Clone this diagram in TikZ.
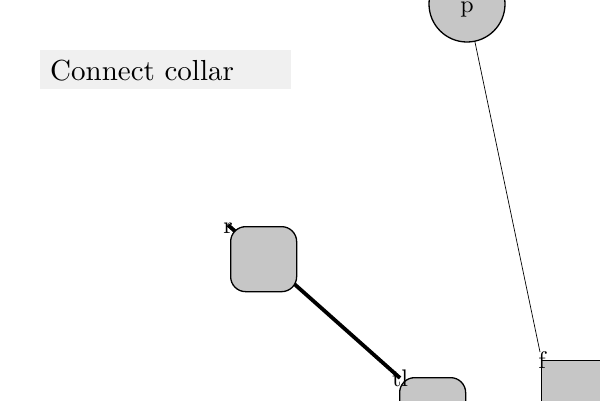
\documentclass[tikz,border=0pt]{standalone}
\usepackage{fontspec}
\setmainfont{lmroman10-regular}[Extension=.otf]
\begin{document}
\begin{tikzpicture}[x=1pt,y=-1pt,
  shapebox/.style={draw=black,line width=1.3pt,fill=gray!45},
  roundbox/.style={shapebox,rounded corners=15pt,minimum width=66pt,minimum height=65pt,inner sep=0pt},
  lbl/.style={font=\fontsize{24}{24}\selectfont,inner sep=0pt}]
\useasboundingbox (0,0) rectangle (600,400);
\coordinate (r) at (228,225);
\coordinate (tl) at (400,378);
\coordinate (f) at (540,352);
\draw[line width=3.8pt] (r) -- (tl);
\node[roundbox,anchor=north west] (a) at (230,226) {};
\node[roundbox,anchor=north west] (b) at (399,377) {};
\node[shapebox,anchor=north west,minimum width=66pt,minimum height=66pt,inner sep=0pt] (fb) at (541,360) {};
\node[shapebox,circle,minimum size=76pt,inner sep=0pt] (p) at (467,4) {};
\node[lbl] at (467,10) {p};
\draw[line width=0.7pt] (p) -- (f);
\node[lbl] at (228,228) {r};
\node[lbl] at (400,378) {tl};
\node[lbl] at (542,360) {f};
\node[fill=black!6,anchor=north west,minimum width=251pt,minimum height=39pt,inner sep=0pt] (t) at (40,50) {};
\node[anchor=base west,inner sep=0pt,font=\fontsize{29}{29}\selectfont] at (50,80) {Connect collar};
\end{tikzpicture}
\end{document}
